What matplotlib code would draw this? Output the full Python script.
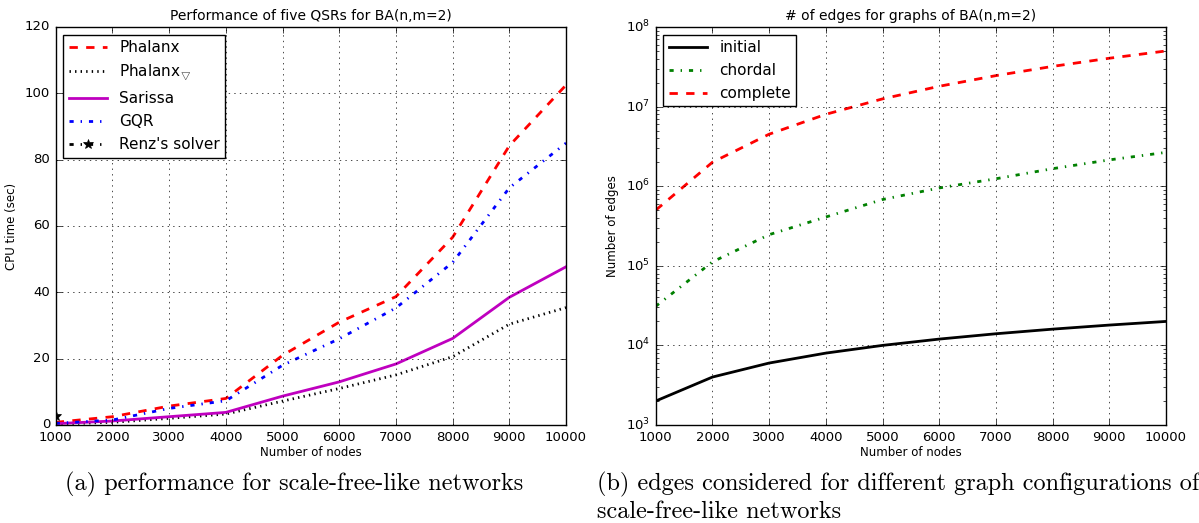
"""
Recreation of the two BA(n,m=2) panels: QSR runtimes and edge counts
"""

import matplotlib
matplotlib.use('Agg')
import matplotlib.pyplot as plt

plt.style.use('classic')

# x values (number of nodes) shared by both panels
nodes = [1000, 2000, 3000, 4000, 5000, 6000, 7000, 8000, 9000, 10000]

# panel (a): CPU time in seconds
phalanx = [0.8, 2.5, 5.7, 8.0, 21.0, 31.0, 38.7, 56.6, 84.2, 102.5]
phalanx_tri = [0.3, 0.8, 2.0, 3.3, 7.2, 11.0, 15.1, 20.6, 30.4, 35.4]
sarissa = [0.4, 1.2, 2.5, 3.8, 8.7, 13.0, 18.4, 26.1, 38.5, 47.7]
gqr = [0.5, 1.5, 5.0, 7.3, 18.0, 26.0, 35.3, 49.0, 71.5, 85.0]
renz_nodes = [1000]
renz = [2.7]

# panel (b): number of edges
initial = [2000, 4000, 6000, 8000, 10000, 12000, 14000, 16000, 18000, 20000]
chordal = [3.1e4, 1.12e5, 2.46e5, 4.1e5, 6.8e5, 9.5e5, 1.24e6, 1.66e6, 2.14e6, 2.66e6]
complete = [499500, 1999000, 4498500, 7998000, 12497500, 17997000,
            24496500, 31996000, 40495500, 49995000]

TICK_SIZE = 9.5
LABEL_SIZE = 8.5
TITLE_SIZE = 10
LEGEND_SIZE = 11
CAPTION_SIZE = 17.5

fig = plt.figure(figsize=(11.99, 5.23), dpi=100)
fig.patch.set_facecolor('white')

ax1 = fig.add_axes([0.0465, 0.1874, 0.4256, 0.761])
ax2 = fig.add_axes([0.5469, 0.1874, 0.4256, 0.761])

# ---- panel (a)
ax1.plot(nodes, phalanx, color='red', ls='--', lw=2, label='Phalanx')
ax1.plot(nodes, phalanx_tri, color='black', ls=':', lw=2,
         label=r'Phalanx$_{\bigtriangledown}$')
ax1.plot(nodes, sarissa, color='m', ls='-', lw=2, label='Sarissa')
ax1.plot(nodes, gqr, color='blue', ls='-.', lw=2, label='GQR')
ax1.plot(renz_nodes, renz, color='black', ls='-.', lw=2, marker='*',
         markersize=7, label="Renz's solver")

ax1.set_xlim(1000, 10000)
ax1.set_ylim(0, 120)
ax1.set_xticks(nodes)
ax1.set_yticks(range(0, 121, 20))
ax1.set_title('Performance of five QSRs for BA(n,m=2)', fontsize=TITLE_SIZE)
ax1.set_xlabel('Number of nodes', fontsize=LABEL_SIZE, labelpad=2)
ax1.set_ylabel('CPU time (sec)', fontsize=LABEL_SIZE)
ax1.grid(True)
ax1.legend(loc='upper left', fontsize=LEGEND_SIZE, numpoints=1,
           handlelength=2.5, borderpad=0.35, labelspacing=0.52)

# ---- panel (b)
ax2.plot(nodes, initial, color='black', ls='-', lw=2, label='initial')
ax2.plot(nodes, chordal, color='green', ls='-.', lw=2, label='chordal')
ax2.plot(nodes, complete, color='red', ls='--', lw=2, label='complete')

ax2.set_yscale('log')
ax2.set_xlim(1000, 10000)
ax2.set_ylim(1e3, 1e8)
ax2.set_xticks(nodes)
ax2.set_title('# of edges for graphs of BA(n,m=2)', fontsize=TITLE_SIZE)
ax2.set_xlabel('Number of nodes', fontsize=LABEL_SIZE, labelpad=2)
ax2.set_ylabel('Number of edges', fontsize=LABEL_SIZE)
ax2.grid(True)
ax2.legend(loc='upper left', fontsize=LEGEND_SIZE, numpoints=1,
           handlelength=2.5, borderpad=0.35, labelspacing=0.52)

for ax in (ax1, ax2):
    ax.tick_params(labelsize=TICK_SIZE)

# sub-figure captions
fig.text(0.2456, 0.073, '(a) performance for scale-free-like networks',
         family='cmr10', fontsize=CAPTION_SIZE, ha='center', va='center')
fig.text(0.498, 0.073, '(b) edges considered for different graph configurations of',
         family='cmr10', fontsize=CAPTION_SIZE, ha='left', va='center')
fig.text(0.498, 0.021, 'scale-free-like networks',
         family='cmr10', fontsize=CAPTION_SIZE, ha='left', va='center')

fig.savefig('out.png', dpi=100, facecolor='white')
plt.close(fig)
